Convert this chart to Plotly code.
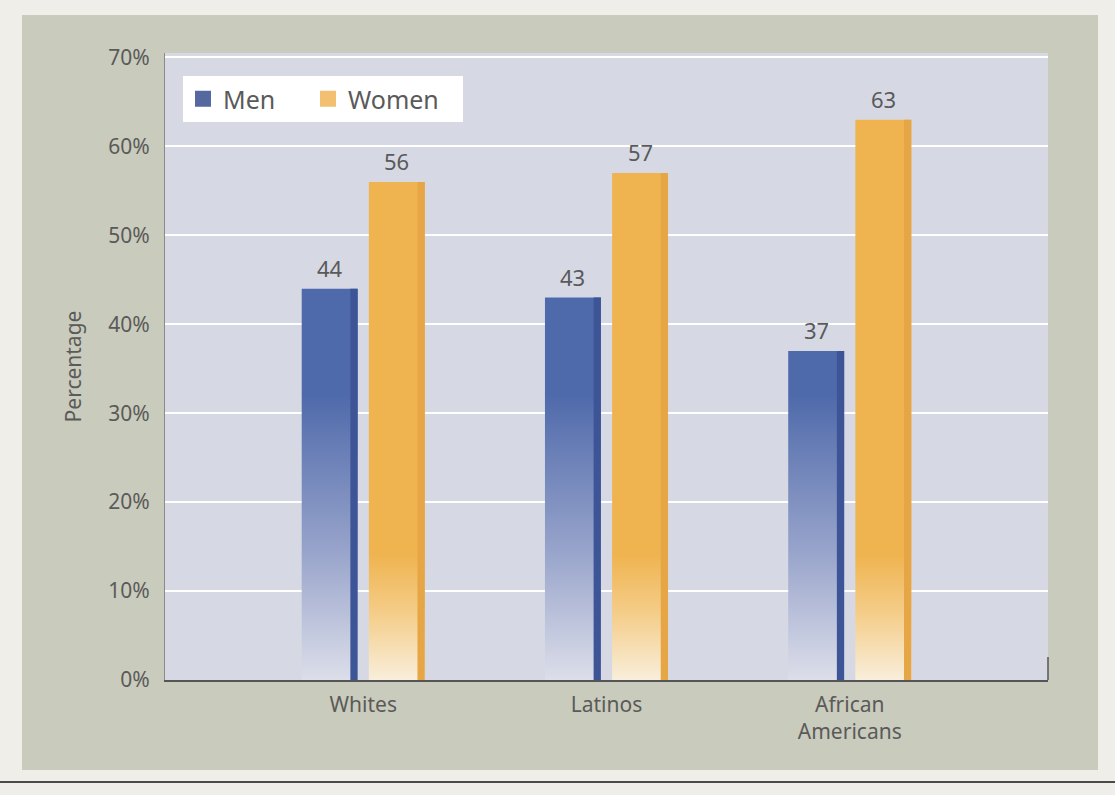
import plotly.graph_objects as go

# Share of each group, by sex (percent)
categories = ["Whites", "Latinos", "African<br>Americans"]
men = [44, 43, 37]
women = [56, 57, 63]
y_ticks = [0, 10, 20, 30, 40, 50, 60, 70]

W, H = 1115, 795
ML, MR, MT, MB = 165, 67, 53, 115
PW, PH = W - ML - MR, H - MT - MB

def px_x(px):
    return (px - ML) / PW

def px_y(py):
    return (H - MB - py) / PH

TEXT = "#5a5a5a"
FONT = "Noto Sans"

series = [
    dict(name="Men", values=men, offset=-0.138,
         grad=[[0, "#dcdee9"], [0.45, "#98a4cb"], [1, "#4f6aab"]], gstop=32,
         edge="#3d5596", key="#55689f", keywidth=80),
    dict(name="Women", values=women, offset=0.138,
         grad=[[0, "#f8eedb"], [0.5, "#f5cf8e"], [1, "#efb450"]], gstop=14,
         edge="#e7a646", key="#f2c070", keywidth=110),
]
bar_w = 0.23
edge_w = 0.03

fig = go.Figure()
for s in series:
    # legend key (square swatch)
    fig.add_trace(go.Scatter(
        x=[None], y=[None], mode="markers", name=s["name"],
        marker=dict(symbol="square", size=22, color=s["key"]),
        legendgroup=s["name"], showlegend=True, legendwidth=s["keywidth"],
    ))
    for i, v in enumerate(s["values"]):
        x0 = i + s["offset"] - bar_w / 2
        x1 = x0 + bar_w
        fig.add_trace(go.Scatter(
            x=[x0, x1, x1, x0, x0], y=[0, 0, v, v, 0],
            mode="none", fill="toself",
            fillgradient=dict(type="vertical", colorscale=s["grad"],
                              start=0, stop=s["gstop"]),
            name=s["name"], legendgroup=s["name"], showlegend=False,
            hoverinfo="skip",
        ))
        # darker strip along the right side of the bar
        fig.add_trace(go.Scatter(
            x=[x1 - edge_w, x1, x1, x1 - edge_w, x1 - edge_w],
            y=[0, 0, v, v, 0],
            mode="none", fill="toself", fillcolor=s["edge"],
            legendgroup=s["name"], showlegend=False, hoverinfo="skip",
        ))
        fig.add_annotation(
            x=i + s["offset"], y=v, text=str(v), showarrow=False,
            yanchor="bottom", yshift=4,
            font=dict(family=FONT, size=22, color=TEXT),
        )

shapes = [
    # panel behind the chart
    dict(type="rect", xref="paper", yref="paper",
         x0=px_x(22), x1=px_x(1098), y0=px_y(770), y1=px_y(15),
         fillcolor="#c9cbbc", line=dict(width=0), layer="below"),
    # plotting area
    dict(type="rect", xref="paper", yref="paper",
         x0=0, x1=1, y0=0, y1=1,
         fillcolor="#d6d9e4", line=dict(width=0), layer="below"),
    # short right-hand end of the baseline
    dict(type="line", xref="paper", yref="y", x0=1, x1=1, y0=0, y1=2.6,
         line=dict(color="#555555", width=1.5)),
    # rule across the bottom of the page
    dict(type="line", xref="paper", yref="paper",
         x0=px_x(0), x1=px_x(W), y0=px_y(782), y1=px_y(782),
         line=dict(color="#4a4a4a", width=2)),
]

fig.update_layout(
    width=W, height=H,
    margin=dict(l=ML, r=MR, t=MT, b=MB),
    paper_bgcolor="#efeee9",
    plot_bgcolor="rgba(0,0,0,0)",
    font=dict(family=FONT, color=TEXT),
    shapes=shapes,
    showlegend=True,
    legend=dict(
        orientation="h", x=px_x(183), y=px_y(76), xanchor="left", yanchor="top",
        bgcolor="white", borderwidth=0,
        font=dict(family=FONT, size=25, color=TEXT),
        itemwidth=30, tracegroupgap=0, itemsizing="trace",
    ),
    xaxis=dict(
        range=[-0.815, 2.815], tickmode="array",
        tickvals=list(range(len(categories))), ticktext=categories,
        showgrid=False, zeroline=False, ticks="",
        showline=True, linecolor="#555555", linewidth=1.5,
        tickfont=dict(family=FONT, size=21, color=TEXT),
        ticklabelstandoff=5,
    ),
    yaxis=dict(
        range=[0, 70.5], tickmode="array", tickvals=y_ticks,
        ticktext=[f"{t}%" for t in y_ticks],
        showgrid=True, gridcolor="white", gridwidth=2,
        zeroline=False, ticks="",
        showline=True, linecolor="#8a8a8a", linewidth=1,
        tickfont=dict(family=FONT, size=21, color=TEXT),
        ticklabelstandoff=10,
        title=dict(text="Percentage", standoff=20,
                   font=dict(family=FONT, size=21, color=TEXT)),
    ),
)

fig.write_html("out.html")
